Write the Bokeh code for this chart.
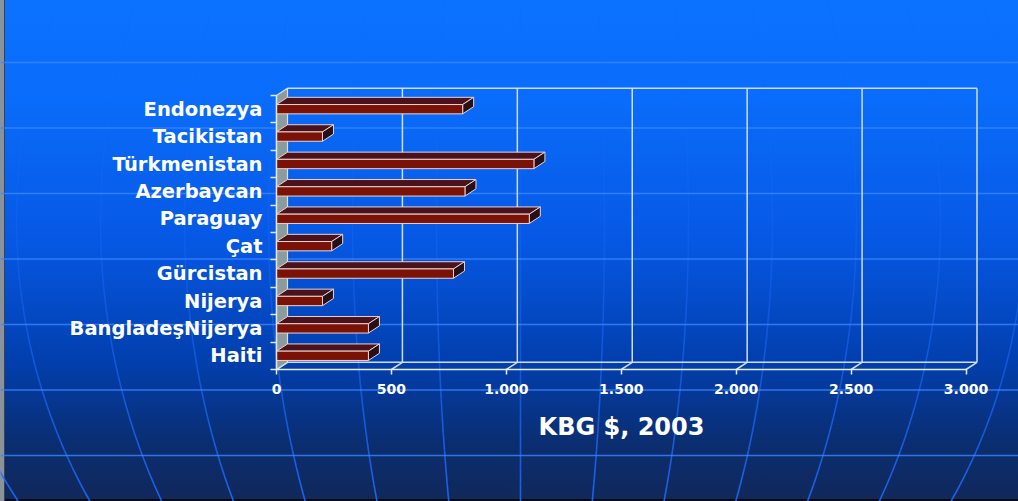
import numpy as np
from bokeh.plotting import figure
from bokeh.models import Range1d, LinearAxis, FixedTicker
from bokeh.embed import file_html
from bokeh.resources import INLINE

# GNI per capita (US$, 2003)
countries = ["Endonezya", "Tacikistan", "Türkmenistan", "Azerbaycan", "Paraguay",
             "Çat", "Gürcistan", "Nijerya", "BangladeşNijerya", "Haiti"]
gni_2003 = [810, 200, 1120, 820, 1100, 240, 770, 200, 400, 400]
x_ticks = [0, 500, 1000, 1500, 2000, 2500, 3000]
x_tick_labels = ["0", "500", "1.000", "1.500", "2.000", "2.500", "3.000"]
axis_title = "KBG $, 2003"

W, H = 1018, 501
n = len(countries)
xmax = x_ticks[-1]

# The plot frame fills the whole canvas; these pixel anchors fix where the
# front plane of the 3-D box sits (x=0 / x=max, floor / top row).
PX0, PX1 = 276.0, 965.5
PY0, PY1 = 369.0, 95.0
sx = (PX1 - PX0) / xmax
sy = (PY0 - PY1) / n


def to_x(px):
    return (np.asarray(px, dtype=float) - PX0) / sx


def to_y(py):
    return (PY0 - np.asarray(py, dtype=float)) / sy


# depth of the box (back wall offset), in data units
DX = 11.0 / sx
DY = 7.2 / sy

p = figure(width=W, height=H,
           x_range=Range1d(float(to_x(0)), float(to_x(W))),
           y_range=Range1d(float(to_y(H)), float(to_y(0))),
           x_axis_type=None, y_axis_type=None,
           toolbar_location=None, output_backend="svg",
           min_border=0, outline_line_color=None,
           background_fill_alpha=0, border_fill_alpha=0)
p.styles = {
    "background": "linear-gradient(to bottom, #0b72ff 0%, #0a6cfa 20%, #0658e4 48%, "
                  "#023fae 72%, #0a2e72 88%, #11285a 100%)",
    "box-shadow": "inset 4px 0 0 #8a929c, inset 5px 0 0 #3a4252, inset 0 -2px 0 #080a14",
}

# globe backdrop: meridians (fading out towards the top) and parallels
globe_cx, globe_eq, globe_r, spacing = 520.0, 220.0, 540.0, 84.0
gy = np.linspace(0, H, 60)
shrink = np.sqrt(1.0 - ((gy - globe_eq) / globe_r) ** 2)
seg_x0, seg_y0, seg_x1, seg_y1, seg_a = [], [], [], [], []
for k in range(-7, 8):
    mx = to_x(globe_cx + k * spacing * shrink)
    my = to_y(gy)
    mid = 0.5 * (gy[:-1] + gy[1:]) / H
    seg_x0 += list(mx[:-1])
    seg_x1 += list(mx[1:])
    seg_y0 += list(my[:-1])
    seg_y1 += list(my[1:])
    seg_a += list(0.1 + 0.8 * mid ** 1.6)
p.segment(x0=seg_x0, y0=seg_y0, x1=seg_x1, y1=seg_y1, line_alpha=seg_a,
          line_color="#1f6bff", line_width=1.6)

par_py = 62.0 + 65.5 * np.arange(7)
p.segment(x0=float(to_x(0)), x1=float(to_x(W)), y0=to_y(par_py), y1=to_y(par_py),
          line_color="#3a86ff", line_alpha=0.8, line_width=1.3)

grid_col = "#cfdcf2"
# back wall: vertical grid lines, top edge and back floor edge
back_x = [v + DX for v in x_ticks[1:]]
p.segment(x0=back_x, y0=DY, x1=back_x, y1=n + DY, line_color=grid_col, line_width=1.5)
p.segment(x0=[DX, DX], y0=[DY, n + DY], x1=[xmax + DX, xmax + DX], y1=[DY, n + DY],
          line_color=grid_col, line_width=1.5)
# floor: short depth lines from each front tick to the back wall
p.segment(x0=x_ticks, y0=0, x1=[v + DX for v in x_ticks], y1=DY,
          line_color=grid_col, line_width=1.5)

# left side wall
p.patch([0, DX, DX, 0], [0, DY, n + DY, n], fill_color="#8c9b9b",
        line_color="#d8e0e0", line_width=1.2)

# 3-D bars: front, top and side faces
vals = np.array(gni_2003, dtype=float)
rows = np.arange(n)[::-1] + 0.5
half = 0.17
edge = "#ecd2d2"
top_y = rows + half
bot_y = rows - half
p.patches([[0, v, v + DX, DX] for v in vals],
          [[t, t, t + DY, t + DY] for t in top_y],
          fill_color="#4a121a", line_color=edge, line_width=1)
p.patches([[v, v + DX, v + DX, v] for v in vals],
          [[b, b + DY, t + DY, t] for b, t in zip(bot_y, top_y)],
          fill_color="#261016", line_color=edge, line_width=1)
p.quad(left=0, right=vals, bottom=bot_y, top=top_y,
       fill_color="#7a1206", line_color=edge, line_width=1)

# category axis on the front-left edge
yax = LinearAxis(fixed_location=0, bounds=(0, n),
                 ticker=FixedTicker(ticks=list(rows), minor_ticks=list(range(n + 1))),
                 major_label_overrides={float(r): c for r, c in zip(rows, countries)})
yax.axis_line_color = "#dde4ec"
yax.axis_line_width = 1.5
yax.major_tick_out = 0
yax.major_tick_in = 0
yax.minor_tick_out = 6
yax.minor_tick_in = 0
yax.minor_tick_line_color = "#e0e8f0"
yax.minor_tick_line_width = 1.5
yax.major_label_text_font = "DejaVu Sans"
yax.major_label_text_font_style = "bold"
yax.major_label_text_font_size = "19.5px"
yax.major_label_text_color = "white"
yax.major_label_standoff = 8
p.add_layout(yax, "left")

# value axis along the front floor edge
xax = LinearAxis(fixed_location=0, bounds=(0, xmax),
                 ticker=FixedTicker(ticks=x_ticks),
                 major_label_overrides={t: s for t, s in zip(x_ticks, x_tick_labels)})
xax.axis_line_color = "#e8eef6"
xax.axis_line_width = 1.5
xax.major_tick_out = 5
xax.major_tick_in = 0
xax.major_tick_line_color = "#e8eef6"
xax.major_tick_line_width = 1.5
xax.minor_tick_line_color = None
xax.major_label_text_font = "DejaVu Sans"
xax.major_label_text_font_style = "bold"
xax.major_label_text_font_size = "14px"
xax.major_label_text_color = "white"
xax.major_label_standoff = 9
xax.axis_label = axis_title
xax.axis_label_text_font = "DejaVu Sans"
xax.axis_label_text_font_style = "bold"
xax.axis_label_text_font_size = "24px"
xax.axis_label_text_color = "white"
xax.axis_label_standoff = 16
p.add_layout(xax, "below")

open("out.html", "w").write(file_html(p, INLINE))
